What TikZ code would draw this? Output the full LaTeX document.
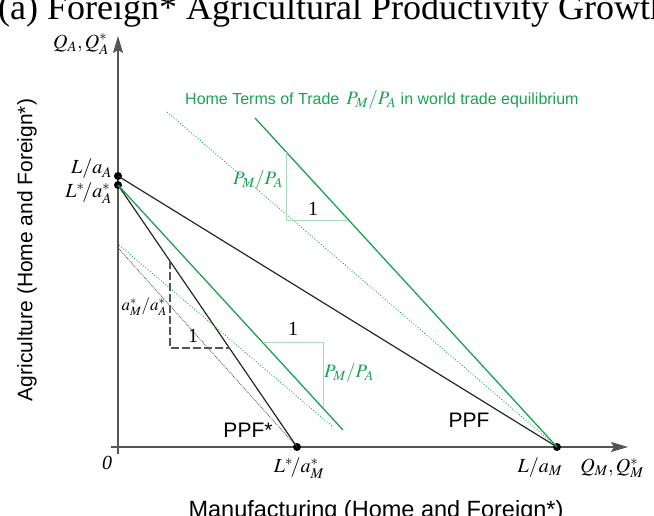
\documentclass[tikz,border=0pt]{standalone}
\usepackage{mathptmx}
\usepackage{fontspec}
\setmainfont{Liberation Serif}
\setsansfont{Liberation Sans}
\usepackage{tikz}
\usetikzlibrary{arrows.meta,positioning,calc}
\definecolor{tot}{HTML}{1BA352}
\definecolor{totlite}{HTML}{A8DDB8}
\definecolor{axisgray}{HTML}{555555}

\begin{document}
\begin{tikzpicture}[x=1pt,y=-1pt,
  every node/.style={inner sep=1pt},
  axisline/.style={axisgray,line width=1.4pt,-{Stealth[length=17pt,width=10pt,inset=3pt]}},
  ppfline/.style={black!85,line width=1.2pt},
  totline/.style={tot,line width=1.3pt},
  totdot/.style={tot,line width=0.9pt,dotted},
  refdot/.style={black!70,line width=0.8pt,densely dotted},
  slopeA/.style={axisgray,line width=1.2pt,dashed,dash pattern=on 8pt off 3pt},
  slopeT/.style={totlite,line width=0.9pt},
  endpt/.style={circle,fill=black,inner sep=0pt,minimum size=8pt},
  mlab/.style={font=\fontsize{20}{22}\selectfont},
  slab/.style={font=\sffamily\fontsize{21}{23}\selectfont},
  glab/.style={tot,font=\fontsize{19}{21}\selectfont}
]
\useasboundingbox (0,0) rectangle (654,516);

% Title (cut off at the page edge)
\node[anchor=base west,font=\fontsize{36}{38}\selectfont] (title) at (-3,20)
  {(a) Foreign* Agricultural Productivity Growth};

% Axes
\coordinate (orig) at (118,447);
\draw[axisline] (118,454) coordinate (ybot) -- (118,36) coordinate (ytop);
\draw[axisline] (111,447) coordinate (xleft) -- (628,447) coordinate (xtop);

% Intercepts
\node[endpt] (hA) at (118,176) {};
\node[endpt] (fA) at (118,185) {};
\node[endpt] (hM) at (557,447) {};
\node[endpt] (fM) at (297,447) {};

% PPFs
\draw[ppfline] (hA.center) -- (hM.center);
\draw[ppfline] (fA.center) -- (fM.center);

% Terms-of-trade lines
\coordinate (gLow) at (343,430);
\coordinate (gUp)  at (255,118);
\coordinate (dLow) at (119,245);
\coordinate (dUp)  at (167,112);
\coordinate (kLow) at (119,249);
\draw[totline] (fA.center) -- (gLow);
\draw[totline] (gUp) -- (hM.center);
\draw[totdot] (dLow) -- (333,427) coordinate (dLowEnd);
\draw[totdot] (dUp) -- (hM.center);
\draw[refdot] (kLow) -- (fM.center);

% Slope triangles
\draw[slopeA] (170,261) coordinate (sA1) -- (170,348) coordinate (sA2) -- (230,348) coordinate (sA3);
\draw[slopeT] (263,342) coordinate (sL1) -- (323,342) coordinate (sL2) -- (323,408) coordinate (sL3);
\draw[slopeT] (286,152) coordinate (sU1) -- (286,220) coordinate (sU2) -- (347,220) coordinate (sU3);

% Axis labels
\node[mlab] (qa) at (81,44) {$Q_A,Q_A^*$};
\node[mlab,anchor=east] (lA) at (113,169) {$L/a_A$};
\node[mlab,anchor=east] (lfA) at (113,193) {$L^*\!/a_A^*$};
\node[mlab] (zero) at (107,463) {\textit{0}};
\node[mlab] (lfM) at (299,468) {$L^*\!/a_M^*$};
\node[mlab] (lM) at (540,468) {$L/a_M$};
\node[mlab] (qm) at (612,468) {$Q_M,Q_M^*$};
\node[slab,font=\sffamily\fontsize{23.5}{25}\selectfont,anchor=base] (xlab) at (376,517) {Manufacturing (Home and Foreign*)};
\node[slab,rotate=90] (ylab) at (27,250) {Agriculture (Home and Foreign*)};

% Curve and slope labels
\node[slab] (ppfH) at (469,420) {PPF};
\node[slab] (ppfF) at (248,430) {PPF*};
\node[mlab,font=\fontsize{17}{19}\selectfont,anchor=east] (relA) at (168,307) {$a_M^*/a_A^*$};
\node[mlab] (oneA) at (193,336) {1};
\node[mlab] (oneL) at (293,329) {1};
\node[glab] (ptL) at (349,373) {$P_M/P_A$};
\node[mlab] (oneU) at (313,209) {1};
\node[glab] (ptU) at (258,180) {$P_M/P_A$};
\node[tot,anchor=west,font=\sffamily\fontsize{16}{18}\selectfont] (tothead) at (184,100)
  {Home Terms of Trade \,{\fontsize{19}{21}\selectfont$P_M/P_A$} in world trade equilibrium};
\end{tikzpicture}
\end{document}
